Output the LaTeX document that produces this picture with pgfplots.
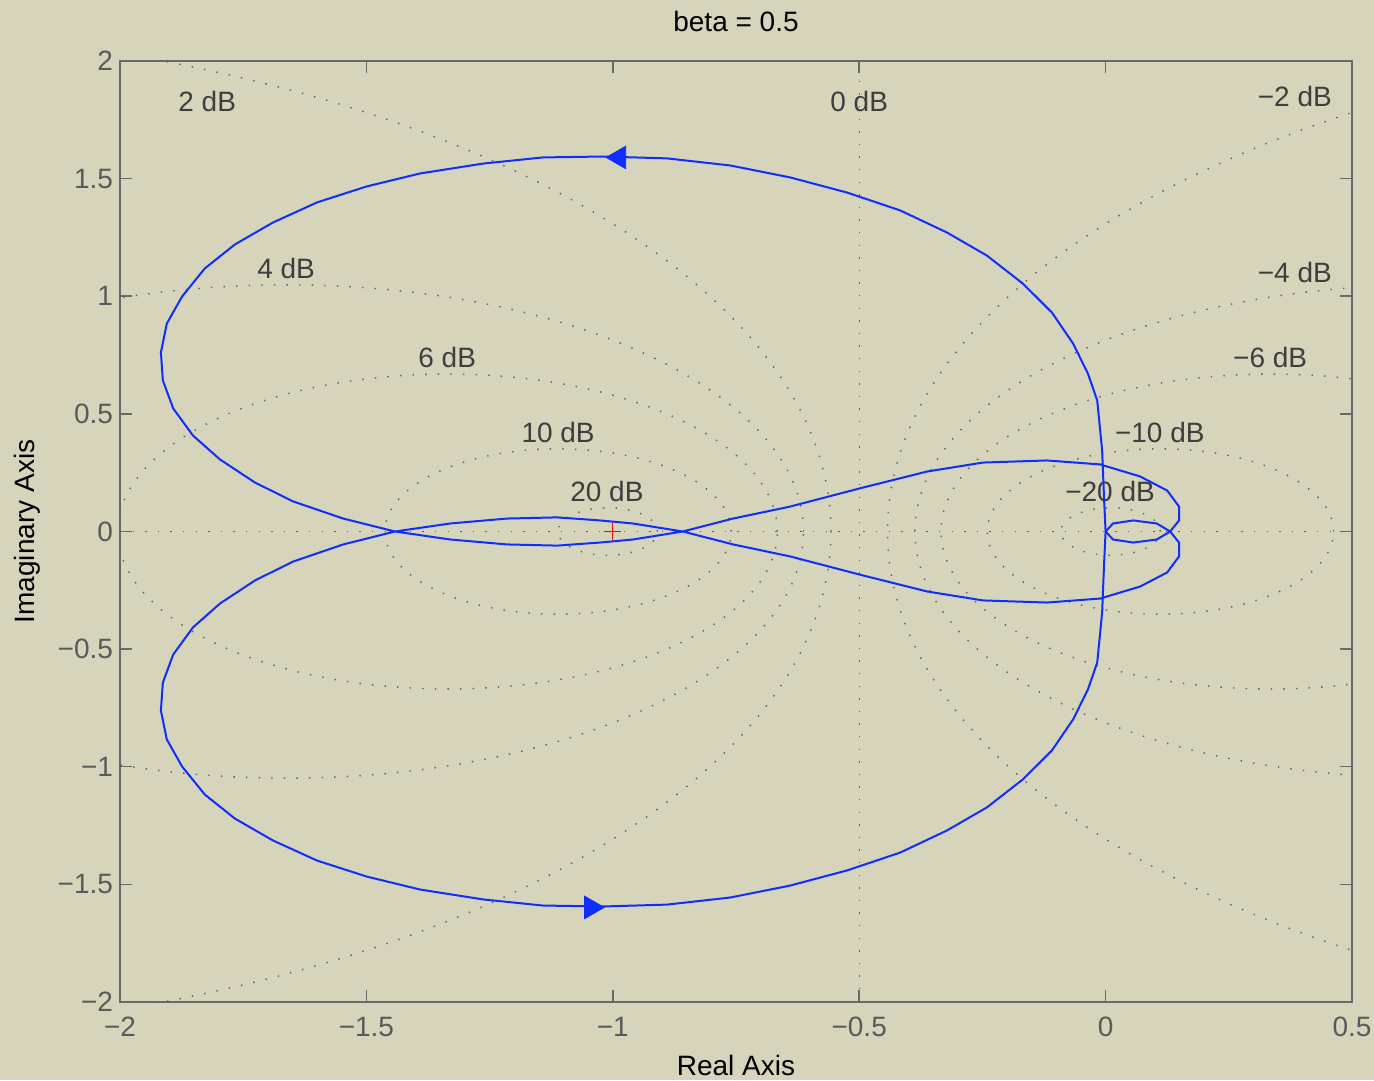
\documentclass[border=0pt]{standalone}
\usepackage{fontspec}
\setmainfont{Liberation Sans}
\usepackage{pgfplots}
\pgfplotsset{compat=1.18}
\definecolor{bg}{RGB}{214,212,187}
\definecolor{axgray}{RGB}{105,105,105}
\definecolor{tickgray}{RGB}{90,90,90}
\definecolor{dbgray}{RGB}{62,62,62}
\definecolor{dotgray}{RGB}{95,95,95}
\definecolor{nyq}{RGB}{15,45,255}
\begin{document}
\begin{tikzpicture}
\path[use as bounding box] (-60pt,-39pt) rectangle (627pt,501pt);
\fill[bg] (-60pt,-39pt) rectangle (627pt,501pt);
\begin{axis}[
  at={(0,0)}, anchor=south west,
  scale only axis, width=616pt, height=470.5pt,
  xmin=-2, xmax=0.5, ymin=-2, ymax=2,
  xtick={-2,-1.5,-1,-0.5,0,0.5},
  xticklabels={−2,−1.5,−1,−0.5,0,0.5},
  ytick={-2,-1.5,-1,-0.5,0,0.5,1,1.5,2},
  yticklabels={−2,−1.5,−1,−0.5,0,0.5,1,1.5,2},
  tick label style={font=\fontsize{14}{16}\selectfont, text=tickgray},
  xticklabel style={yshift=-4pt},
  axis line style={draw=axgray, line width=0.75pt},
  tick style={draw=axgray, line width=0.75pt},
  major tick length=6pt,
  tick align=inside,
  xtick pos=both, ytick pos=both,
  title={beta = 0.5},
  title style={at={(axis description cs:0.5,1)}, anchor=center, yshift=13.5pt, inner sep=0pt, font=\fontsize{14}{16}\selectfont, text=black},
  xlabel={Real Axis},
  xlabel style={at={(axis description cs:0.5,0)}, anchor=center, yshift=-31.5pt, inner sep=0pt, font=\fontsize{14}{16}\selectfont, text=black},
  ylabel={Imaginary Axis},
  ylabel style={at={(axis description cs:-0.0755,0.5)}, anchor=center, inner sep=0pt, font=\fontsize{14}{16}\selectfont, text=black},
  clip=true,
]
% M-circle grid
\begin{scope}[dotgray, line width=0.7pt, dash pattern=on 0.7pt off 5.6pt]
\draw (axis cs:-2,0) -- (axis cs:0.5,0);
\draw (axis cs:-0.5,-2) -- (axis cs:-0.5,2);
\draw (axis cs:-1.0101,0) circle[x radius=0.1010, y radius=0.1010];
\draw (axis cs:-1.1111,0) circle[x radius=0.3514, y radius=0.3514];
\draw (axis cs:-1.3354,0) circle[x radius=0.6693, y radius=0.6693];
\draw (axis cs:-1.6614,0) circle[x radius=1.0483, y radius=1.0483];
\draw (axis cs:-2.7097,0) circle[x radius=2.1524, y radius=2.1524];
\draw (axis cs:1.7100,0) circle[x radius=2.1526, y radius=2.1526];
\draw (axis cs:0.6614,0) circle[x radius=1.0483, y radius=1.0483];
\draw (axis cs:0.3354,0) circle[x radius=0.6693, y radius=0.6693];
\draw (axis cs:0.1111,0) circle[x radius=0.3514, y radius=0.3514];
\draw (axis cs:0.0101,0) circle[x radius=0.1010, y radius=0.1010];
\end{scope}
\begin{scope}[every node/.style={font=\fontsize{14}{16}\selectfont, text=dbgray, inner sep=0pt}]
\node at (axis cs:-1.823,1.828) {2 dB};
\node at (axis cs:-0.5,1.828) {0 dB};
\node at (axis cs:0.384,1.849) {−2 dB};
\node at (axis cs:-1.663,1.118) {4 dB};
\node at (axis cs:0.384,1.101) {−4 dB};
\node at (axis cs:-1.336,0.740) {6 dB};
\node at (axis cs:0.334,0.740) {−6 dB};
\node at (axis cs:-1.111,0.421) {10 dB};
\node at (axis cs:0.110,0.421) {−10 dB};
\node at (axis cs:-1.012,0.170) {20 dB};
\node at (axis cs:0.009,0.170) {−20 dB};
\end{scope}
% Nyquist curve
\addplot[nyq, line width=1pt, no marks, sharp plot] coordinates {
(0,0) (-0.003,0.132) (-0.007,0.344) (-0.017,0.557) (-0.036,0.672) (-0.066,0.799)
(-0.109,0.931) (-0.168,1.054) (-0.241,1.173) (-0.322,1.271) (-0.417,1.365)
(-0.525,1.441) (-0.640,1.505) (-0.762,1.556) (-0.890,1.586) (-1.020,1.594)
(-1.142,1.590) (-1.263,1.564) (-1.391,1.522) (-1.499,1.467) (-1.600,1.399)
(-1.690,1.313) (-1.767,1.220) (-1.828,1.118) (-1.874,0.999) (-1.905,0.884)
(-1.917,0.761) (-1.913,0.642) (-1.892,0.523) (-1.852,0.408) (-1.797,0.306)
(-1.726,0.208) (-1.649,0.128) (-1.547,0.055) (-1.442,0) (-1.330,-0.034)
(-1.215,-0.055) (-1.113,-0.060) (-1.026,-0.047) (-0.959,-0.034) (-0.858,0)
(-0.756,0.055) (-0.640,0.106) (-0.492,0.187) (-0.362,0.255) (-0.249,0.293)
(-0.119,0.302) (-0.011,0.285) (0.070,0.234) (0.125,0.174) (0.149,0.106)
(0.149,0.047) (0.131,0) (0.104,-0.034) (0.056,-0.047) (0.015,-0.034) (0,0)
(0.015,0.034) (0.056,0.047) (0.104,0.034) (0.131,0) (0.149,-0.047)
(0.149,-0.106) (0.125,-0.174) (0.070,-0.234) (-0.011,-0.285) (-0.119,-0.302)
(-0.249,-0.293) (-0.362,-0.255) (-0.492,-0.187) (-0.640,-0.106) (-0.756,-0.055)
(-0.858,0) (-0.959,0.034) (-1.026,0.047) (-1.113,0.060) (-1.215,0.055)
(-1.330,0.034) (-1.442,0) (-1.547,-0.055) (-1.649,-0.128) (-1.726,-0.208)
(-1.797,-0.306) (-1.852,-0.408) (-1.892,-0.523) (-1.913,-0.642) (-1.917,-0.761)
(-1.905,-0.884) (-1.874,-0.999) (-1.828,-1.118) (-1.767,-1.220) (-1.690,-1.313)
(-1.600,-1.399) (-1.499,-1.467) (-1.391,-1.522) (-1.263,-1.564) (-1.142,-1.590)
(-1.020,-1.594) (-0.890,-1.586) (-0.762,-1.556) (-0.640,-1.505) (-0.525,-1.441)
(-0.417,-1.365) (-0.322,-1.271) (-0.241,-1.173) (-0.168,-1.054) (-0.109,-0.931)
(-0.066,-0.799) (-0.036,-0.672) (-0.017,-0.557) (-0.007,-0.344) (-0.003,-0.132)
(0,0)
};
% direction arrows
\addplot[only marks, mark=triangle*, mark size=6.5pt, mark options={rotate=90, fill=nyq, draw=nyq}] coordinates {(-0.987,1.590)};
\addplot[only marks, mark=triangle*, mark size=6.5pt, mark options={rotate=-90, fill=nyq, draw=nyq}] coordinates {(-1.044,-1.598)};
% critical point
\addplot[only marks, mark=+, mark size=4.2pt, mark options={draw=red, line width=0.6pt}] coordinates {(-1,0)};
\end{axis}
\end{tikzpicture}
\end{document}
